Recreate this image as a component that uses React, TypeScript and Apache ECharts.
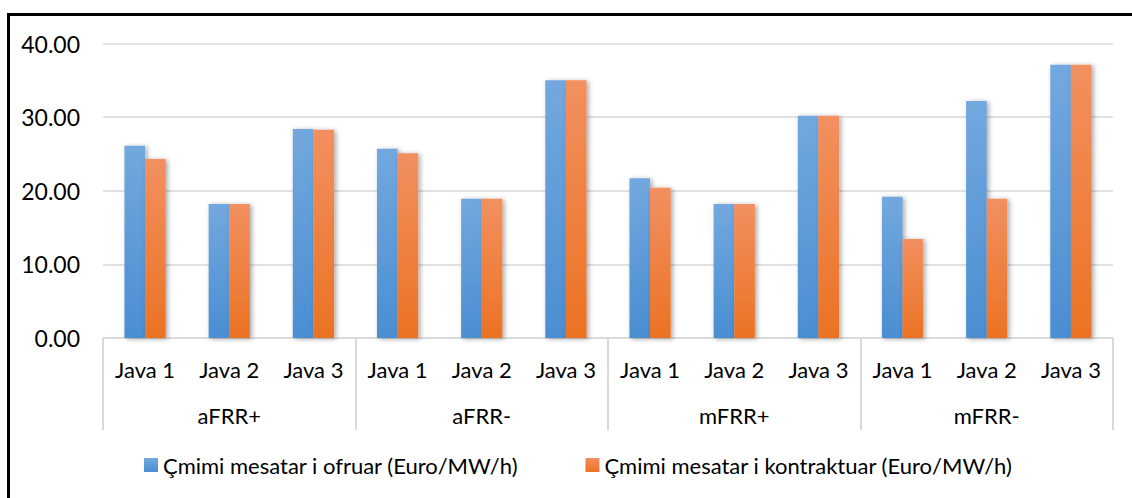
import React, { useEffect, useRef } from "react";
import * as echarts from "echarts";

const groups = ["aFRR+", "aFRR-", "mFRR+", "mFRR-"];
const categories = [
  "Java 1", "Java 2", "Java 3",
  "Java 1", "Java 2", "Java 3",
  "Java 1", "Java 2", "Java 3",
  "Java 1", "Java 2", "Java 3",
];
const seriesNames = [
  "Çmimi mesatar i ofruar (Euro/MW/h)",
  "Çmimi mesatar i kontraktuar (Euro/MW/h)",
];
const offered = [26.1, 18.2, 28.4, 25.7, 18.9, 35.0, 21.7, 18.2, 30.2, 19.2, 32.2, 37.1];
const contracted = [24.3, 18.2, 28.3, 25.1, 18.9, 35.0, 20.4, 18.2, 30.2, 13.45, 18.9, 37.1];
const yTicks = { min: 0, max: 40, interval: 10 };

const FONT = "Lato";

export default function App() {
  const ref = useRef<HTMLDivElement>(null);
  useEffect(() => {
    if (!ref.current) return;
    const chart = echarts.init(ref.current, null, { renderer: "svg" });
    const grad = (top: string, bottom: string) =>
      new echarts.graphic.LinearGradient(0, 0, 0, 1, [
        { offset: 0, color: top },
        { offset: 1, color: bottom },
      ]);
    const barShadow = {
      shadowBlur: 5,
      shadowColor: "rgba(0,0,0,0.35)",
      shadowOffsetX: 2,
      shadowOffsetY: 1,
    };
    chart.setOption({
      animation: false,
      backgroundColor: "#ffffff",
      textStyle: { fontFamily: FONT },
      graphic: [
        {
          type: "rect",
          shape: { x: 8.5, y: 14.5, width: 1200, height: 600 },
          style: { fill: "none", stroke: "#000", lineWidth: 3 },
          silent: true,
          z: 100,
        },
      ],
      grid: { left: 103, right: 19, top: 43.5, bottom: 160, containLabel: false },
      legend: {
        bottom: 17,
        left: 139,
        itemWidth: 14,
        itemHeight: 14,
        itemGap: 67,
        icon: "rect",
        textStyle: { fontFamily: FONT, fontSize: 22, color: "#000", padding: [0, 0, 0, 0] },
        data: seriesNames,
      },
      xAxis: [
        {
          type: "category",
          data: categories,
          position: "bottom",
          axisLine: { show: true, lineStyle: { color: "#d9d9d9", width: 1.5 } },
          axisTick: { show: false },
          axisLabel: { margin: 20, fontSize: 22, color: "#000", fontFamily: FONT, interval: 0 },
        },
        {
          type: "category",
          data: groups,
          position: "bottom",
          axisLine: { show: false },
          axisTick: { show: true, length: 92, lineStyle: { color: "#d9d9d9", width: 2 } },
          axisLabel: { margin: 66, fontSize: 22, color: "#000", fontFamily: FONT, interval: 0 },
        },
      ],
      yAxis: {
        type: "value",
        min: yTicks.min,
        max: yTicks.max,
        interval: yTicks.interval,
        axisLine: { show: false },
        axisTick: { show: false },
        splitLine: { lineStyle: { color: "#d9d9d9", width: 1.5 } },
        axisLabel: {
          margin: 23,
          fontSize: 23,
          color: "#000",
          fontFamily: FONT,
          formatter: (v: number) => v.toFixed(2),
        },
      },
      series: [
        {
          name: seriesNames[0],
          type: "bar",
          xAxisIndex: 0,
          data: offered,
          barGap: "0%",
          barCategoryGap: "51%",
          itemStyle: { color: grad("#73a8de", "#4a8ed2"), ...barShadow },
        },
        {
          name: seriesNames[1],
          type: "bar",
          xAxisIndex: 0,
          data: contracted,
          barGap: "0%",
          barCategoryGap: "51%",
          itemStyle: { color: grad("#f29060", "#eb7223"), ...barShadow },
        },
      ],
    });
    return () => chart.dispose();
  }, []);
  return (
    <div
      ref={ref}
      style={{ position: "fixed", left: 0, top: 0, width: 1132, height: 498 }}
    />
  );
}
